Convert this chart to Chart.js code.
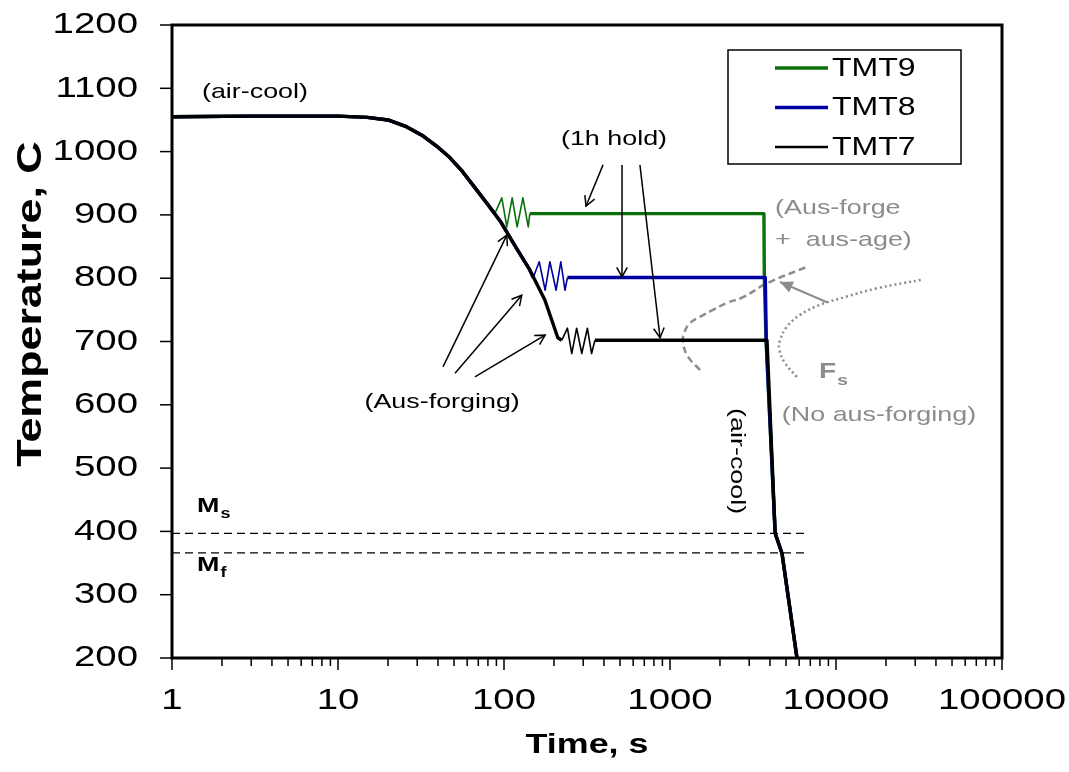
<!DOCTYPE html>
<html>
<head>
<meta charset="utf-8">
<script src="https://cdn.jsdelivr.net/npm/chart.js@4.4.1/dist/chart.umd.min.js"></script>
<style>
    body { margin: 0; background: #fff; }
</style>
</head>
<body>
<canvas id="graf" width="1069" height="772"></canvas>
<script>
// spolecna krivka chladnuti (s, degC)
const coolTime = [1, 3, 6, 10, 15, 20, 26, 32, 40, 47, 56, 65, 78, 95, 116, 143, 176, 211];
const coolTemp = [1055, 1056, 1056, 1056, 1054, 1050, 1039, 1026, 1007, 991, 969, 947, 920, 890, 852, 813, 766, 706];

// kovani (cik-cak)
const zig9Time = [88, 97, 104, 112, 120, 130, 140, 143];
const zig9Temp = [902, 927, 881, 927, 881, 927, 881, 902];
const zig8Time = [150, 163, 177, 189, 206, 220, 233, 241];
const zig8Temp = [801, 826, 781, 826, 781, 826, 781, 801];
const zig7Time = [223, 241, 256, 274, 294, 318, 337, 353];
const zig7Temp = [702, 721, 681, 721, 681, 721, 681, 702];

// konec vydrze + chladnuti na vzduchu
const end9Time = [3680, 3700, 3790, 4300, 4730, 5820];
const end9Temp = [902, 801, 702, 397, 365, 200];
const end8Time = [3750, 3800, 4300, 4730, 5820];
const end8Temp = [801, 702, 397, 365, 200];
const end7Time = [3840, 4300, 4730, 5820];
const end7Temp = [702, 397, 365, 200];

// Ms / Mf
const msmfTime = [1, 6780];
const msTemp = 397;
const mfTemp = 366;

// Fs krivky
const fsAgeTime = [1517, 1283, 1197, 1214, 1319, 1517, 1815, 2205, 2754, 3840, 6690];
const fsAgeTemp = [655, 676, 698, 713, 729, 739, 750, 761, 770, 792, 818];
const fsNoTime = [5800, 4930, 4553, 4600, 5046, 6067, 8011, 11590, 17570, 33570];
const fsNoTemp = [644, 666, 687, 702, 723, 742, 758, 771, 784, 798];

// sipky [t0, T0, t1, T1]
const sipkyKovani = [[42.9, 660, 104, 868], [50.7, 650, 128, 773], [66.8, 644, 177, 710]];
const sipkyVydrz = [[395, 979, 312, 914], [514, 979, 514, 802], [659, 979, 871, 706]];
const sipkaFs = [8830, 762, 4600, 794];

const yTicks = [200, 300, 400, 500, 600, 700, 800, 900, 1000, 1100, 1200];
const xTicks = [1, 10, 100, 1000, 10000, 100000];
const xLabels = ['1', '10', '100', '1000', '10000', '100000'];

const SX = 1.28;
const FONT = "'Liberation Sans', Arial, sans-serif";
const ZELENA = '#0a700a';
const MODRA = '#0000a0';
const SEDA = '#8c8c8c';

function body(cas, tep) {
    return cas.map((t, i) => ({ x: t, y: tep[i] }));
}

function trasa(zigT, zigY, endT, endY) {
    const data = [];
    coolTime.forEach((t, i) => {
        if (t < zigT[0]) data.push({ x: t, y: coolTemp[i] });
    });
    const z0 = data.length;
    data.push(...body(zigT, zigY));
    const z1 = data.length - 1;
    data.push(...body(endT, endY));
    return { data, z0, z1 };
}

function datasetTrasy(label, barva, poradi, tr, sirka) {
    return {
        label: label,
        data: tr.data,
        borderColor: barva,
        borderWidth: sirka,
        borderJoinStyle: 'round',
        pointRadius: 0,
        tension: 0,
        order: poradi,
        jeTrasa: true,
        segment: {
            borderWidth: ctx => (ctx.p0DataIndex >= tr.z0 && ctx.p1DataIndex <= tr.z1) ? 1.6 : sirka
        }
    };
}

const t9 = trasa(zig9Time, zig9Temp, end9Time, end9Temp);
const t8 = trasa(zig8Time, zig8Temp, end8Time, end8Temp);
const t7 = trasa(zig7Time, zig7Temp, end7Time, end7Temp);

function text(ctx, s, x, y, opt) {
    ctx.save();
    ctx.translate(x, y);
    if (opt.rot) ctx.rotate(opt.rot);
    ctx.scale(SX, 1);
    ctx.font = opt.font;
    ctx.fillStyle = opt.color || '#000';
    ctx.textAlign = opt.align || 'center';
    ctx.textBaseline = opt.base || 'middle';
    ctx.fillText(s, 0, 0);
    const w = ctx.measureText(s).width * SX;
    ctx.restore();
    return w;
}

function sipka(ctx, x0, y0, x1, y1, plna) {
    const a = Math.atan2(y1 - y0, x1 - x0);
    ctx.beginPath();
    ctx.moveTo(x0, y0);
    ctx.lineTo(x1, y1);
    ctx.stroke();
    const d = plna ? 14 : 11;
    const r = plna ? 0.45 : 0.5;
    ctx.beginPath();
    ctx.moveTo(x1 - d * Math.cos(a - r), y1 - d * Math.sin(a - r));
    ctx.lineTo(x1, y1);
    ctx.lineTo(x1 - d * Math.cos(a + r), y1 - d * Math.sin(a + r));
    if (plna) { ctx.closePath(); ctx.fill(); } else ctx.stroke();
}

const dekorace = {
    id: 'dekorace',
    afterDraw(chart) {
        const ctx = chart.ctx;
        const a = chart.chartArea;
        const sx = chart.scales.x;
        const sy = chart.scales.y;
        const px = v => sx.getPixelForValue(v);
        const py = v => sy.getPixelForValue(v);

        // ramecek
        ctx.save();
        ctx.strokeStyle = '#000';
        ctx.lineWidth = 3;
        ctx.strokeRect(a.left, a.top, a.right - a.left, a.bottom - a.top);

        // osa y
        ctx.lineWidth = 1.5;
        yTicks.forEach(v => {
            ctx.beginPath();
            ctx.moveTo(a.left - 12, py(v));
            ctx.lineTo(a.left, py(v));
            ctx.stroke();
            text(ctx, String(v), a.left - 34, py(v), { font: '30px ' + FONT, align: 'right' });
        });

        // osa x
        for (let d = 1; d < 100000; d *= 10) {
            for (let k = 2; k <= 9; k++) {
                ctx.beginPath();
                ctx.moveTo(px(k * d), a.bottom);
                ctx.lineTo(px(k * d), a.bottom + 8);
                ctx.stroke();
            }
        }
        xTicks.forEach((v, i) => {
            ctx.beginPath();
            ctx.moveTo(px(v), a.bottom);
            ctx.lineTo(px(v), a.bottom + 12);
            ctx.stroke();
            text(ctx, xLabels[i], px(v), 701, { font: '30px ' + FONT });
        });

        text(ctx, 'Time, s', (a.left + a.right) / 2, 745, { font: 'bold 28px ' + FONT });
        text(ctx, 'Temperature, C', 31, 304, { font: 'bold 35px ' + FONT, rot: -Math.PI / 2 });

        // popisky
        const f21 = '21px ' + FONT;
        text(ctx, '(air-cool)', px(3.16), py(1094), { font: f21 });
        text(ctx, '(1h hold)', px(460), py(1019), { font: f21 });
        text(ctx, '(Aus-forging)', px(42.4), py(604), { font: f21 });
        text(ctx, '(air-cool)', px(2535), py(511), { font: f21, rot: Math.PI / 2 });
        text(ctx, '(Aus-forge', px(4295), py(911), { font: f21, color: SEDA, align: 'left' });
        text(ctx, '+  aus-age)', px(4295), py(860), { font: f21, color: SEDA, align: 'left' });
        text(ctx, '(No aus-forging)', px(18150), py(584), { font: f21, color: SEDA });
        const wF = text(ctx, 'F', px(7900), py(652), { font: 'bold 22px ' + FONT, color: SEDA, align: 'left' });
        text(ctx, 's', px(7900) + wF + 1, py(652) + 9, { font: 'bold 15px ' + FONT, color: SEDA, align: 'left' });
        const wM = text(ctx, 'M', 197, py(440), { font: 'bold 21px ' + FONT, align: 'left' });
        text(ctx, 's', 197 + wM + 1, py(440) + 8, { font: 'bold 14px ' + FONT, align: 'left' });
        text(ctx, 'M', 197, py(347), { font: 'bold 21px ' + FONT, align: 'left' });
        text(ctx, 'f', 197 + wM + 1, py(347) + 8, { font: 'bold 14px ' + FONT, align: 'left' });

        // sipky
        ctx.strokeStyle = '#000';
        ctx.fillStyle = '#000';
        ctx.lineWidth = 1.5;
        sipkyKovani.concat(sipkyVydrz).forEach(s => {
            sipka(ctx, px(s[0]), py(s[1]), px(s[2]), py(s[3]), false);
        });
        ctx.strokeStyle = SEDA;
        ctx.fillStyle = SEDA;
        ctx.lineWidth = 2;
        sipka(ctx, px(sipkaFs[0]), py(sipkaFs[1]), px(sipkaFs[2]), py(sipkaFs[3]), true);

        // legenda
        ctx.strokeStyle = '#000';
        ctx.lineWidth = 1.5;
        ctx.strokeRect(728, 50, 233, 114);
        const trasy = chart.data.datasets.filter(ds => ds.jeTrasa);
        ['TMT9', 'TMT8', 'TMT7'].forEach((jm, i) => {
            const ds = trasy.find(d => d.label === jm);
            const y = 68 + i * 39.5;
            ctx.strokeStyle = ds.borderColor;
            ctx.lineWidth = i < 2 ? 3.5 : 2.5;
            ctx.beginPath();
            ctx.moveTo(775, y);
            ctx.lineTo(828, y);
            ctx.stroke();
            text(ctx, jm, 832, y + 1, { font: '25px ' + FONT, align: 'left' });
        });
        ctx.restore();
    }
};

new Chart(document.getElementById('graf'), {
    type: 'line',
    data: {
        datasets: [
            datasetTrasy('TMT9', ZELENA, 3, t9, 3.4),
            datasetTrasy('TMT8', MODRA, 2, t8, 3.4),
            datasetTrasy('TMT7', '#000', 1, t7, 3.4),
            {
                label: 'Ms',
                data: body(msmfTime, [msTemp, msTemp]),
                borderColor: '#000', borderWidth: 1.3, borderDash: [8, 5],
                pointRadius: 0, order: 4
            },
            {
                label: 'Mf',
                data: body(msmfTime, [mfTemp, mfTemp]),
                borderColor: '#000', borderWidth: 1.3, borderDash: [8, 5],
                pointRadius: 0, order: 4
            },
            {
                label: 'Fs aus-age',
                data: body(fsAgeTime, fsAgeTemp),
                borderColor: SEDA, borderWidth: 2.5, borderDash: [7, 4],
                pointRadius: 0, tension: 0.4, order: 5
            },
            {
                label: 'Fs',
                data: body(fsNoTime, fsNoTemp),
                borderColor: SEDA, borderWidth: 2.5, borderDash: [2, 3],
                pointRadius: 0, tension: 0.4, order: 5
            }
        ]
    },
    options: {
        responsive: false,
        animation: false,
        devicePixelRatio: 1,
        layout: { padding: { top: 25, right: 67, left: 0, bottom: 0 } },
        plugins: { legend: { display: false }, tooltip: { enabled: false } },
        scales: {
            x: {
                type: 'logarithmic',
                min: 1,
                max: 100000,
                ticks: { display: false },
                grid: { display: false },
                border: { display: false },
                afterFit: s => { s.height = 114; }
            },
            y: {
                type: 'linear',
                min: 200,
                max: 1200,
                ticks: { display: false },
                grid: { display: false },
                border: { display: false },
                afterFit: s => { s.width = 172; }
            }
        }
    },
    plugins: [dekorace]
});
</script>
</body>
</html>
